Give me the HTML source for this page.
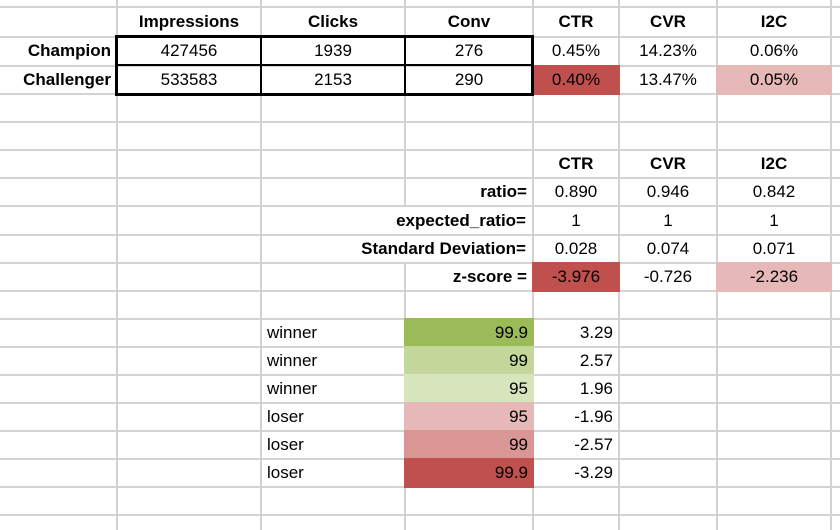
<!DOCTYPE html>
<html><head><meta charset="utf-8"><style>
body{margin:0;width:840px;height:530px;overflow:hidden;background:#fff;font-family:"Liberation Sans",sans-serif;position:relative}
.g{position:absolute;background:#d3d3d3}
.c{position:absolute;font-size:17px;line-height:28px;color:#000;white-space:nowrap;box-sizing:border-box}
.b{font-weight:bold}
</style></head><body>
<div id="root"></div>
<script>
const colX=[0,117,261,405,533,619,717,831,840];
const rowY=[7,37,65.5,94,122,150,178,206,235,263,291,319,347,375,403,431,459,487,515];
const headers=["Impressions","Clicks","Conv","CTR","CVR","I2C"];
const champion=["427456","1939","276","0.45%","14.23%","0.06%"];
const challenger=["533583","2153","290","0.40%","13.47%","0.05%"];
const challFill=[null,null,null,"#c0504d",null,"#e6b8b7"];
const statLabels=["ratio=","expected_ratio=","Standard Deviation=","z-score ="];
const ctrStats=["0.890","1","0.028","-3.976"];
const cvrStats=["0.946","1","0.074","-0.726"];
const i2cStats=["0.842","1","0.071","-2.236"];
const zFill=["#c0504d",null,"#e6b8b7"];
const outcomes=["winner","winner","winner","loser","loser","loser"];
const confidence=["99.9","99","95","95","99","99.9"];
const zCrit=["3.29","2.57","1.96","-1.96","-2.57","-3.29"];
const confFill=["#9bbb59","#c4d79b","#d8e4bc","#e6b8b7","#da9694","#c0504d"];
const root=document.body;
function grid(x,y,w,h,name){const d=document.createElement('div');d.className='g';


d.style.cssText=`left:${x}px;top:${y}px;width:${w}px;height:${h}px`;root.appendChild(d);}
colX.slice(1,8).forEach((x,i)=>grid(x-1,0,2,530,'column-gridline'));
rowY.forEach(y=>grid(0,y-1,840,2,'row-gridline'));
function cell(c0,c1,r,text,name,opt={}){const d=document.createElement('div');d.className='c'+(opt.bold?' b':'');


const x0=colX[c0]-(opt.fill?1:0),x1=colX[c1]+(opt.fill?1:0);
const y0=rowY[r]-(opt.fill?1:0),y1=rowY[r+1]+(opt.fill?1:0);
d.style.left=x0+'px';d.style.top=y0+'px';d.style.width=(x1-x0)+'px';d.style.height=(y1-y0)+'px';
d.style.lineHeight=(y1-y0)+'px';
d.style.textAlign=opt.align||'center';
if(opt.align==='right')d.style.paddingRight='6px';
if(opt.align==='left')d.style.paddingLeft='6px';
if(opt.fill)d.style.background=opt.fill;
d.textContent=text;root.appendChild(d);return d;}
headers.forEach((h,i)=>cell(i+1,i+2,0,h,'header-'+h.toLowerCase(),{bold:true}));
cell(0,1,1,'Champion','champion-label',{bold:true,align:'right'});
cell(0,1,2,'Challenger','challenger-label',{bold:true,align:'right'});
champion.forEach((v,i)=>cell(i+1,i+2,1,v,'champion-value'));
challenger.forEach((v,i)=>cell(i+1,i+2,2,v,'challenger-value',{fill:challFill[i]||undefined}));
const box=document.createElement('div');


box.style.cssText='position:absolute;left:115px;top:35px;width:419px;height:61px;border:3px solid #000;box-sizing:border-box';
root.appendChild(box);
[[260,36,2,59],[404,36,2,59],[116,64,417,2]].forEach(a=>{const d=document.createElement('div');


d.style.cssText=`position:absolute;left:${a[0]}px;top:${a[1]}px;width:${a[2]}px;height:${a[3]}px;background:#000`;root.appendChild(d);});
['CTR','CVR','I2C'].forEach((h,i)=>cell(4+i,5+i,5,h,'stats-header-'+h.toLowerCase(),{bold:true}));
statLabels.forEach((l,r)=>{const full=(r===1||r===2);
const d=cell(full?2:3,4,6+r,l,'stat-label',{bold:true,align:'right'});
if(full){d.style.left=(colX[2]+1)+'px';d.style.width=(colX[4]-colX[2]-2)+'px';d.style.top=(rowY[6+r]+1)+'px';d.style.height=(rowY[7+r]-rowY[6+r]-2)+'px';d.style.lineHeight=(rowY[7+r]-rowY[6+r]-2)+'px';d.style.background='#fff';}});
[ctrStats,cvrStats,i2cStats].forEach((arr,c)=>arr.forEach((v,r)=>cell(4+c,5+c,6+r,v,'stat-value',{fill:(r===3&&zFill[c])?zFill[c]:undefined})));
outcomes.forEach((o,r)=>cell(2,3,11+r,o,'outcome-label',{align:'left'}));
confidence.forEach((v,r)=>cell(3,4,11+r,v,'confidence-level',{align:'right',fill:confFill[r]}));
zCrit.forEach((v,r)=>cell(4,5,11+r,v,'critical-z',{align:'right'}));
</script>
</body></html>
